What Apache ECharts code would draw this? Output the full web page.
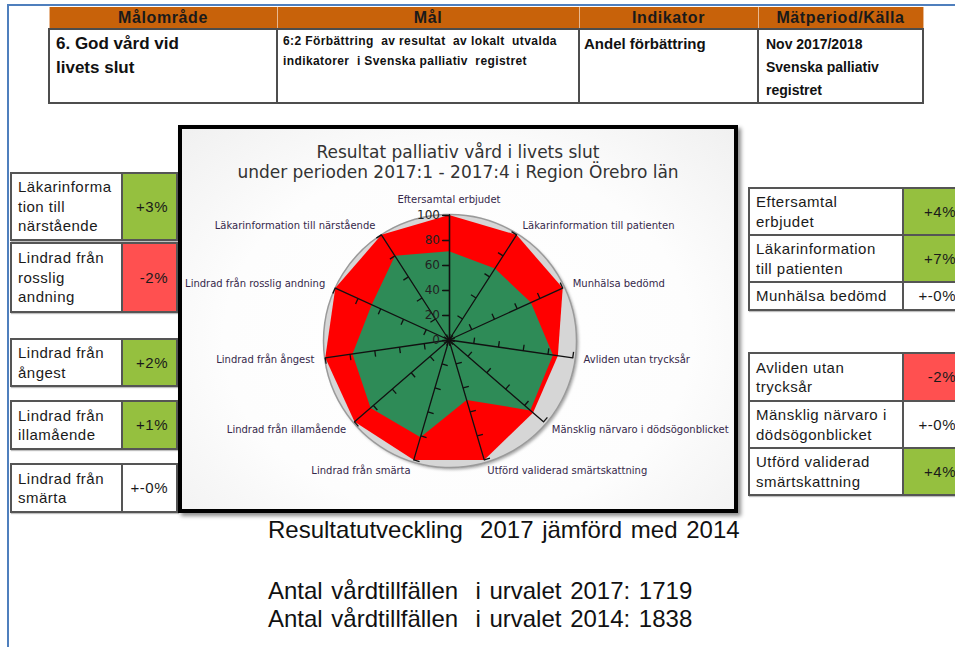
<!DOCTYPE html>
<html><head><meta charset="utf-8">
<script src="https://cdn.jsdelivr.net/npm/echarts@6/dist/echarts.min.js"></script>
<style>
html,body{margin:0;padding:0;}
body{width:955px;height:647px;overflow:hidden;background:#fff;position:relative;font-family:'Liberation Sans',Arial,sans-serif;color:#111;}
.abs{position:absolute;}
#frameTop{left:7px;top:4px;width:960px;height:2px;background:#4f7fbd;z-index:5;}
#frameLeft{left:7px;top:4px;width:2px;height:660px;background:#4f7fbd;z-index:5;}
#head{left:48px;top:7px;width:874px;}
#head table{border-collapse:collapse;width:874px;table-layout:fixed;}
#head th{background:#c8620a;color:#1a1a1a;font:bold 16px 'Liberation Sans',Arial,sans-serif;letter-spacing:0.6px;height:21px;padding:0;border-left:1px solid #e8b890;border-right:1px solid #e8b890;}
#head td{vertical-align:top;border:2px solid #4d4d4d;height:68px;padding:0;font-weight:bold;}
.sbox{position:absolute;border-collapse:collapse;table-layout:fixed;box-shadow:1px 1px 1px rgba(0,0,0,0.25);}
.sbox td{border:2px solid #555;padding:0;font:15px 'Liberation Sans',Arial,sans-serif;letter-spacing:0.5px;color:#1a1a1a;line-height:19.5px;}
.sbox td.lab{background:#fff;padding-left:6px;vertical-align:middle;}
.sbox td.val{text-align:right;vertical-align:middle;padding-right:8px;}
#chartBox{left:178px;top:125px;width:560px;height:388px;box-sizing:border-box;border:4px solid #000;background:radial-gradient(ellipse at 50% 55%,#ffffff 0%,#fdfdfd 60%,#f0f0f0 100%);box-shadow:3px 3px 4px rgba(0,0,0,0.45);}
#chart{position:absolute;left:0;top:0;width:552px;height:380px;}
.bt{position:absolute;left:268px;font:24px 'Liberation Sans',Arial,sans-serif;color:#111;white-space:pre;line-height:28px;word-spacing:2px;}
</style></head>
<body>
<div id="frameTop" class="abs"></div>
<div id="frameLeft" class="abs"></div>
<div id="head" class="abs"></div>
<div id="chartBox" class="abs"><div id="chart"></div></div>
<div id="leftBoxes"></div>
<div id="rightBoxes"></div>
<div class="bt" style="top:516px;">Resultatutveckling  2017 jämförd med 2014</div>
<div class="bt" style="top:577px;">Antal vårdtillfällen  i urvalet 2017: 1719</div>
<div class="bt" style="top:605px;">Antal vårdtillfällen  i urvalet 2014: 1838</div>
<script>
// ---------- data ----------
const headerLabels = ['Målområde', 'Mål', 'Indikator', 'Mätperiod/Källa'];
const headerCells = ['6. God vård vid|livets slut', '6:2 Förbättring  av resultat  av lokalt  utvalda|indikatorer  i Svenska palliativ  registret', 'Andel förbättring', 'Nov 2017/2018|Svenska palliativ|registret'];

const chartTitle = 'Resultat palliativ vård i livets slut\nunder perioden 2017:1 - 2017:4 i Region Örebro län';
// radar categories, clockwise from top
const categories = ['Eftersamtal erbjudet', 'Läkarinformation till patienten', 'Munhälsa bedömd', 'Avliden utan trycksår', 'Mänsklig närvaro i dödsögonblicket', 'Utförd validerad smärtskattning', 'Lindrad från smärta', 'Lindrad från illamående', 'Lindrad från ångest', 'Lindrad från rosslig andning', 'Läkarinformation till närstående'];
const redValues = [100, 100, 100, 88, 89, 100, 100, 100, 100, 100, 100];
const greenValues = [71, 68, 72, 84, 86, 50, 81, 83, 78, 68, 80];
const axisTicks = [0, 20, 40, 60, 80, 100];

const leftLabels = ['Läkarinforma|tion till|närstående', 'Lindrad från|rosslig|andning', 'Lindrad från|ångest', 'Lindrad från|illamående', 'Lindrad från|smärta'];
const leftChanges = ['+3%', '-2%', '+2%', '+1%', '+-0%'];
const rightLabelsA = ['Eftersamtal|erbjudet', 'Läkarinformation|till patienten', 'Munhälsa  bedömd'];
const rightChangesA = ['+4%', '+7%', '+-0%'];
const rightLabelsB = ['Avliden utan|trycksår', 'Mänsklig  närvaro i|dödsögonblicket', 'Utförd validerad|smärtskattning'];
const rightChangesB = ['-2%', '+-0%', '+4%'];

// ---------- header table ----------
(function () {
  const widths = [228, 302, 179, 165];
  const pads = ['2px 0 0 6px;font-size:17px;line-height:24px;', '1px 0 0 5px;font-size:12px;letter-spacing:0.4px;line-height:20px;', '3px 0 0 4px;font-size:15px;line-height:22px;', '3px 0 0 7px;font-size:14px;line-height:23px;'];
  let h = '<table><colgroup>' + widths.map(w => '<col style="width:' + w + 'px">').join('') + '</colgroup><tr>';
  h += headerLabels.map(t => '<th>' + t + '</th>').join('') + '</tr><tr>';
  h += headerCells.map((t, i) => '<td><div style="padding:' + pads[i] + 'white-space:pre;">' + t.split('|').join('\n') + '</div></td>').join('');
  h += '</tr></table>';
  document.getElementById('head').innerHTML = h;
})();

// ---------- side boxes ----------
function changeColor(v) {
  if (v.indexOf('+-') === 0) return '#ffffff';
  if (v[0] === '-') return '#ff5050';
  return '#95c03f';
}
function boxRows(labels, changes, heights) {
  return labels.map((l, i) => '<tr style="height:' + heights[i] + 'px"><td class="lab">' + l.split('|').join('<br>') + '</td><td class="val" style="background:' + changeColor(changes[i]) + '">' + changes[i] + '</td></tr>').join('');
}
(function () {
  const lb = document.getElementById('leftBoxes');
  const tops = [172, 242, 338, 400, 463];
  const hs = [67, 69, 47, 48, 48];
  let h = '';
  leftLabels.forEach((l, i) => {
    h += '<table class="sbox" style="left:10px;top:' + tops[i] + 'px;width:166px;"><colgroup><col style="width:111px"><col style="width:55px"></colgroup>' +
      boxRows([l], [leftChanges[i]], [hs[i]]) + '</table>';
  });
  lb.innerHTML = h;
  const rb = document.getElementById('rightBoxes');
  let r = '';
  r += '<table class="sbox" style="left:748px;top:187px;width:216px;"><colgroup><col style="width:154px"><col style="width:62px"></colgroup>' + boxRows(rightLabelsA, rightChangesA, [47, 47, 28]) + '</table>';
  r += '<table class="sbox" style="left:748px;top:352px;width:216px;"><colgroup><col style="width:154px"><col style="width:62px"></colgroup>' + boxRows(rightLabelsB, rightChangesB, [48, 47, 47]) + '</table>';
  rb.innerHTML = r;
})();

// ---------- radar chart ----------
// ECharts radar goes counter-clockwise; reorder to display clockwise
function cw(arr) { return [arr[0]].concat(arr.slice(1).reverse()); }
const chart = echarts.init(document.getElementById('chart'), null, { renderer: 'svg' });
const C = [267, 211];
const R = 125;
const nameFont = { color: '#35284a', fontSize: 10, fontFamily: 'DejaVu Sans' };
chart.setOption({
  animation: false,
  title: {
    text: chartTitle, left: 'center', top: 8,
    textStyle: { fontSize: 17, fontWeight: 'normal', color: '#333', lineHeight: 20, fontFamily: 'DejaVu Sans' }
  },
  radar: [
    { // background disc
      center: [C[0] + 1, C[1] + 1], radius: R + 1.5, shape: 'circle', splitNumber: 1, z: 1,
      indicator: categories.map(() => ({ name: '', max: 100, min: 0 })),
      axisName: { show: false },
      axisLine: { show: false }, axisTick: { show: false }, axisLabel: { show: false },
      splitLine: { lineStyle: { color: '#9a9a9a', width: 1.5 } },
      splitArea: { areaStyle: { color: ['#d6d6d6'], shadowColor: 'rgba(0,0,0,0.35)', shadowBlur: 3, shadowOffsetX: 2, shadowOffsetY: 2 } }
    },
    { // main axes on top of the areas
      center: C, radius: R, startAngle: 90, splitNumber: 5, z: 3,
      indicator: cw(categories).map(n => ({ name: n, max: 100, min: 0 })),
      axisName: nameFont, nameGap: 11,
      axisLine: { lineStyle: { color: '#111', width: 1.3 } },
      axisTick: { show: true, length: 6, lineStyle: { color: '#111', width: 1.3 } },
      axisLabel: { show: false },
      splitLine: { show: false }, splitArea: { show: false }
    },
    { // value scale on the top axis
      center: C, radius: R, startAngle: 90, splitNumber: axisTicks.length - 1, z: 3,
      indicator: [{ name: '', max: axisTicks[axisTicks.length - 1], min: axisTicks[0] }],
      axisName: { show: false },
      axisLine: { lineStyle: { color: '#111', width: 1.3 } },
      axisTick: { show: true, length: 7, lineStyle: { color: '#111', width: 1.3 } },
      axisLabel: { show: true, fontSize: 12, color: '#222', fontFamily: 'DejaVu Sans', margin: 9 },
      splitLine: { show: false }, splitArea: { show: false }
    }
  ],
  series: [{
    type: 'radar', radarIndex: 1, z: 2, symbol: 'none', silent: true,
    data: [
      { value: cw(redValues), name: 'Mål', areaStyle: { color: '#ff0000', opacity: 1 }, lineStyle: { width: 0 } },
      { value: cw(greenValues), name: 'Resultat', areaStyle: { color: '#2e8b57', opacity: 1 }, lineStyle: { width: 0 } }
    ]
  }]
});
</script>
</body></html>
